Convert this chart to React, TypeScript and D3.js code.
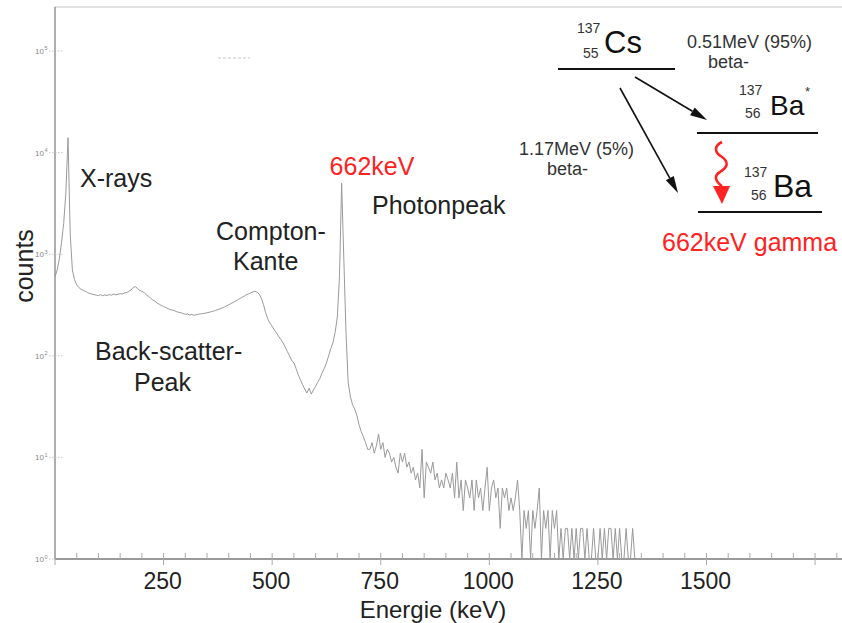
import React from 'react';
import * as d3 from 'd3';

// Gamma spectrum of Cs-137, counts per 5 keV channel
const CHANNEL_KEV = 5;

const XRAY_START_KEV = 0;
const XRAY_COUNTS = [600, 700, 900, 1300, 2000, 4000, 14000, 1600, 700, 560, 500, 470, 450, 440, 430, 420, 410, 405, 400, 395, 392];

const BACKSCATTER_START_KEV = 105;
const BACKSCATTER_COUNTS = [400, 390, 398, 392, 400, 395, 405, 398, 402, 410, 405, 415, 420, 430, 445, 470, 480, 460, 440, 430, 420, 400, 385, 370, 355, 345, 330, 322, 312, 305, 298, 292, 285, 282, 278, 272, 268, 265, 260, 256, 258, 252, 255, 250, 254, 256, 258, 260, 262, 265, 268, 272, 275, 280, 285, 290, 296, 302, 310, 318, 326, 335, 345, 355, 365, 375, 385, 398, 405, 415, 425, 430];

const PHOTOPEAK_START_KEV = 465;
const PHOTOPEAK_COUNTS = [425, 405, 370, 320, 265, 230, 210, 195, 180, 168, 155, 145, 134, 122, 110, 100, 90, 85, 75, 65, 58, 52, 47, 43, 48, 42, 46, 50, 55, 60, 68, 75, 85, 100, 118, 135, 170, 240, 600, 5000, 900, 170, 55, 40, 33, 30, 26, 21, 18, 16, 14, 12, 12];

const CONTINUUM_START_KEV = 730;
const CONTINUUM_COUNTS = [14, 11, 13, 17, 12, 14, 10, 12, 11, 9, 10, 8, 7, 11, 9, 11, 8, 9, 7, 8, 6, 7, 5, 12, 4, 9, 8, 7, 9, 6, 7, 5, 6, 5, 7, 6, 5, 7, 4, 9, 4, 6, 3, 6, 5, 4, 6, 3, 6, 4, 5, 3, 5, 8, 3, 5, 6, 4, 5, 2, 5, 4, 5, 3, 4, 3, 4, 6, 3];

const TAIL_START_KEV = 1075;
const TAIL_COUNTS = [1, 3, 2, 3, 1, 3, 2, 3, 5, 1, 3, 2, 3, 1, 3, 2, 3, 1, 2, 1, 2, 2, 1, 2, 1, 2, 1, 2, 2, 1, 2, 1, 1, 2, 1, 1, 2, 1, 2, 1, 2, 2, 1, 2, 1, 2, 1, 1, 2, 1, 1, 2, 1];

const X_TICK_LABELS = [250, 500, 750, 1000, 1250, 1500];
const X_MAJOR_TICKS = [0, 250, 500, 750, 1000, 1250, 1500, 1750];
const Y_DECADES = [0, 1, 2, 3, 4, 5];

const SEGMENTS: [number, number[]][] = [
  [XRAY_START_KEV, XRAY_COUNTS],
  [BACKSCATTER_START_KEV, BACKSCATTER_COUNTS],
  [PHOTOPEAK_START_KEV, PHOTOPEAK_COUNTS],
  [CONTINUUM_START_KEV, CONTINUUM_COUNTS],
  [TAIL_START_KEV, TAIL_COUNTS],
];

const W = 842;
const H = 623;
const LEFT = 55;
const RIGHT = 842;
const TOP = 7;
const BOTTOM = 559;

const FONT = "'Liberation Sans', Arial, Helvetica, sans-serif";

function Arrow({ x1, y1, x2, y2, color = '#111', len = 17, hw = 4.5, sw = 1.6 }: any) {
  const a = Math.atan2(y2 - y1, x2 - x1);
  const bx = x2 - len * Math.cos(a);
  const by = y2 - len * Math.sin(a);
  const px = -Math.sin(a) * hw;
  const py = Math.cos(a) * hw;
  return (
    <g>
      <line x1={x1} y1={y1} x2={bx} y2={by} stroke={color} strokeWidth={sw} />
      <polygon points={`${x2},${y2} ${bx + px},${by + py} ${bx - px},${by - py}`} fill={color} />
    </g>
  );
}

export default function App() {
  const data: { e: number; c: number }[] = [];
  SEGMENTS.forEach(([start, counts]) => {
    counts.forEach((c, i) => data.push({ e: start + i * CHANNEL_KEV, c }));
  });

  const x = d3.scaleLinear().domain([0, 1812]).range([LEFT, RIGHT]);
  const y = d3.scaleLog().domain([1, 271000]).range([BOTTOM, TOP]);

  const line = d3
    .line<{ e: number; c: number }>()
    .x((d) => x(d.e))
    .y((d) => y(Math.max(1, d.c)));

  const minorTicks = d3.range(50, 1801, 50).filter((v) => v % 250 !== 0);

  const labelStyle = { fontFamily: FONT, fontSize: 25, fill: '#222' } as any;
  const tickStyle = { fontFamily: FONT, fontSize: 23, fill: '#222' } as any;
  const smallStyle = { fontFamily: FONT, fontSize: 18, fill: '#333' } as any;

  return (
    <div>
      <style>{'body{margin:0}'}</style>
      <svg width={W} height={H} style={{ display: 'block', background: '#fff' }}>
        {/* frame */}
        <line x1={LEFT} x2={RIGHT} y1={TOP} y2={TOP} stroke="#c4c4c4" strokeWidth={1} />
        <line x1={LEFT} x2={LEFT} y1={TOP} y2={BOTTOM} stroke="#9a9a9a" strokeWidth={1.6} />

        {/* y ticks */}
        {Y_DECADES.map((d) => (
          <g key={d}>
            <line x1={49} x2={63} y1={y(Math.pow(10, d))} y2={y(Math.pow(10, d))} stroke="#bbb" strokeWidth={0.8} strokeDasharray="1.5,1.5" />
            <text x={44} y={y(Math.pow(10, d)) + 3} textAnchor="end" style={{ fontFamily: FONT, fontSize: 8, fill: '#888' }}>
              10
            </text>
            <text x={44.5} y={y(Math.pow(10, d)) - 0.5} style={{ fontFamily: FONT, fontSize: 5.5, fill: '#888' }}>
              {d}
            </text>
          </g>
        ))}

        {/* faint dashes near top */}
        <line x1={218} x2={250} y1={58} y2={58} stroke="#c8c8c8" strokeWidth={1.2} strokeDasharray="3,2" />

        {/* spectrum */}
        <path d={line(data) || ''} fill="none" stroke="#9a9a9a" strokeWidth={1} />

        {/* x axis */}
        <line x1={LEFT} x2={RIGHT} y1={BOTTOM} y2={BOTTOM} stroke="#9a9a9a" strokeWidth={2} />
        {minorTicks.map((v) => (
          <line key={'m' + v} x1={x(v)} x2={x(v)} y1={BOTTOM - 6} y2={BOTTOM} stroke="#aaa" strokeWidth={1} />
        ))}
        {X_MAJOR_TICKS.map((v) => (
          <line key={'M' + v} x1={x(v)} x2={x(v)} y1={BOTTOM - 6} y2={BOTTOM + 6} stroke="#aaa" strokeWidth={1} />
        ))}
        {X_TICK_LABELS.map((v) => (
          <text key={'l' + v} x={x(v) - 1} y={589} textAnchor="middle" style={tickStyle}>
            {v}
          </text>
        ))}
        <text x={433} y={618} textAnchor="middle" style={{ ...labelStyle, fontSize: 24 }}>
          Energie (keV)
        </text>
        <text transform="translate(33,266) rotate(-90)" textAnchor="middle" style={labelStyle}>
          counts
        </text>

        {/* annotations */}
        <text x={80} y={187} style={labelStyle}>X-rays</text>
        <text x={216} y={240} style={labelStyle}>Compton-</text>
        <text x={233} y={270} style={labelStyle}>Kante</text>
        <text x={372} y={175} textAnchor="middle" style={{ ...labelStyle, fill: '#f22' }}>662keV</text>
        <text x={372} y={214} style={labelStyle}>Photonpeak</text>
        <text x={95} y={360} style={labelStyle}>Back-scatter-</text>
        <text x={134} y={391} style={labelStyle}>Peak</text>

        {/* decay scheme */}
        <text x={577} y={33} style={{ ...smallStyle, fontSize: 14 }}>137</text>
        <text x={583} y={58} style={{ ...smallStyle, fontSize: 14 }}>55</text>
        <text x={604} y={53} style={{ ...labelStyle, fontSize: 31, fill: '#111' }}>Cs</text>
        <line x1={558} x2={675} y1={69} y2={69} stroke="#111" strokeWidth={2} />

        <text x={687} y={48} style={smallStyle}>0.51MeV (95%)</text>
        <text x={708} y={68} style={smallStyle}>beta-</text>
        <Arrow x1={635} y1={77} x2={707} y2={120} />

        <text x={739} y={95} style={{ ...smallStyle, fontSize: 14 }}>137</text>
        <text x={745} y={118} style={{ ...smallStyle, fontSize: 14 }}>56</text>
        <text x={770} y={115} style={{ ...labelStyle, fontSize: 28, fill: '#111' }}>Ba</text>
        <text x={805} y={96} style={{ ...smallStyle, fontSize: 13 }}>*</text>
        <line x1={697} x2={818} y1={133} y2={133} stroke="#111" strokeWidth={2} />

        <text x={634} y={155} textAnchor="end" style={smallStyle}>1.17MeV (5%)</text>
        <text x={547} y={175} style={smallStyle}>beta-</text>
        <Arrow x1={620} y1={88} x2={678} y2={193} />

        <path d="M722,142 C714,146 714,152 722,157 C729,162 728,167 720,172 C713,176 716,182 722,186" fill="none" stroke="#f22" strokeWidth={2.6} />
        <polygon points="713,186 730,186 722,204" fill="#f22" />

        <text x={744} y={177} style={{ ...smallStyle, fontSize: 14 }}>137</text>
        <text x={751} y={200} style={{ ...smallStyle, fontSize: 14 }}>56</text>
        <text x={773} y={197} style={{ ...labelStyle, fontSize: 32, fill: '#111' }}>Ba</text>
        <line x1={698} x2={822} y1={212} y2={212} stroke="#111" strokeWidth={2} />

        <text x={662} y={251} style={{ ...labelStyle, fill: '#f22' }}>662keV gamma</text>
      </svg>
    </div>
  );
}
